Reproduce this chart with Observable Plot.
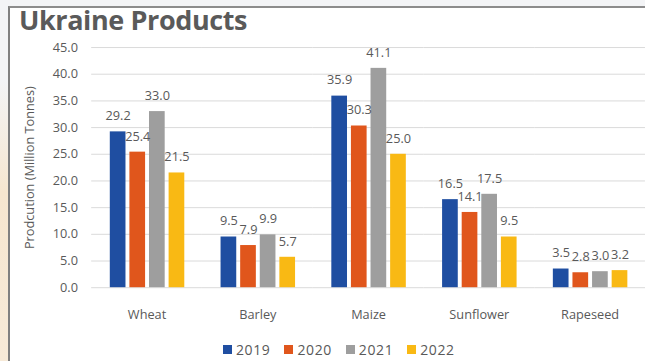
<!DOCTYPE html>
<html>
<head>
<meta charset="utf-8">
<script src="https://cdn.jsdelivr.net/npm/d3@7"></script>
<script src="https://cdn.jsdelivr.net/npm/@observablehq/plot@0.6"></script>
<style>
  html, body { margin: 0; padding: 0; }
  body { width: 645px; height: 361px; overflow: hidden; position: relative; background: #f3f4f6; font-family: "Open Sans", sans-serif; }
  #strip { position: absolute; left: 0; top: 80px; width: 8px; height: 281px; background: linear-gradient(#f3f4f6, #f6e6cf 40%, #f7ead8); }
  #panel { position: absolute; left: 8px; top: 6px; right: 0; bottom: 0; background: #fff; border-left: 2px solid #808080; border-top: 2px solid #8c8c8c; }
  #title { position: absolute; left: 19px; top: 6px; font-weight: bold; font-size: 27px; line-height: 27px; color: #5a5a5a; letter-spacing: -0.4px; white-space: nowrap; }
  #chart { position: absolute; left: 0; top: 0; }
  #legend { position: absolute; top: 340px; left: 223px; display: flex; font-size: 14px; color: #595959; }
  .item { display: flex; align-items: center; margin-right: 14px; letter-spacing: 0.6px; }
  .sw { width: 9px; height: 9px; margin-right: 4px; }
</style>
</head>
<body>
<div id="strip"></div>
<div id="panel"></div>
<div id="chart"></div>
<div id="title">Ukraine Products</div>
<div id="legend"></div>
<script>
const crops = ["Wheat", "Barley", "Maize", "Sunflower", "Rapeseed"];
const years = ["2019", "2020", "2021", "2022"];
const v2019 = [29.2, 9.5, 35.9, 16.5, 3.5];
const v2020 = [25.4, 7.9, 30.3, 14.1, 2.8];
const v2021 = [33.0, 9.9, 41.1, 17.5, 3.0];
const v2022 = [21.5, 5.7, 25.0, 9.5, 3.2];
const yTicks = [0, 5, 10, 15, 20, 25, 30, 35, 40, 45];
const yLabel = "Prodcution (Million Tonnes)";
const colors = ["#1f4ea1", "#e0561c", "#9e9e9e", "#f9b914"];

const series = [v2019, v2020, v2021, v2022];
const data = crops.flatMap((c, i) => series.map((s, j) => ({crop: c, year: years[j], value: s[i]})));

const chart = Plot.plot({
  width: 658,
  height: 330,
  marginLeft: 93,
  marginRight: 0,
  marginTop: 48,
  marginBottom: 37,
  style: {fontFamily: "Open Sans", fontSize: "13px", color: "#595959", background: "transparent", overflow: "visible"},
  fx: {domain: crops, padding: 0, axis: "bottom", label: null, tickSize: 0, tickPadding: 23},
  x: {domain: years, axis: null, paddingInner: 0.22, paddingOuter: 0.87},
  y: {domain: [0, 45], ticks: yTicks, tickFormat: d3.format(".1f"), tickSize: 0, tickPadding: 14,
      label: yLabel, labelAnchor: "center", labelOffset: 68, labelArrow: "none"},
  color: {domain: years, range: colors},
  marks: [
    Plot.ruleY(yTicks, {stroke: "#d9d9d9", strokeWidth: 1}),
    Plot.barY(data, {fx: "crop", x: "year", y: "value", fill: "year"}),
    Plot.text(data, {fx: "crop", x: "year", y: "value", text: d => d.value.toFixed(1), dy: -16, fill: "#595959", fontSize: 13})
  ]
});
document.getElementById("chart").appendChild(chart);

const legend = document.getElementById("legend");
years.forEach((y, i) => {
  const it = document.createElement("div");
  it.className = "item";
  const sw = document.createElement("span");
  sw.className = "sw";
  sw.style.background = colors[i];
  const t = document.createElement("span");
  t.textContent = y;
  it.appendChild(sw); it.appendChild(t);
  legend.appendChild(it);
});
</script>
</body>
</html>
